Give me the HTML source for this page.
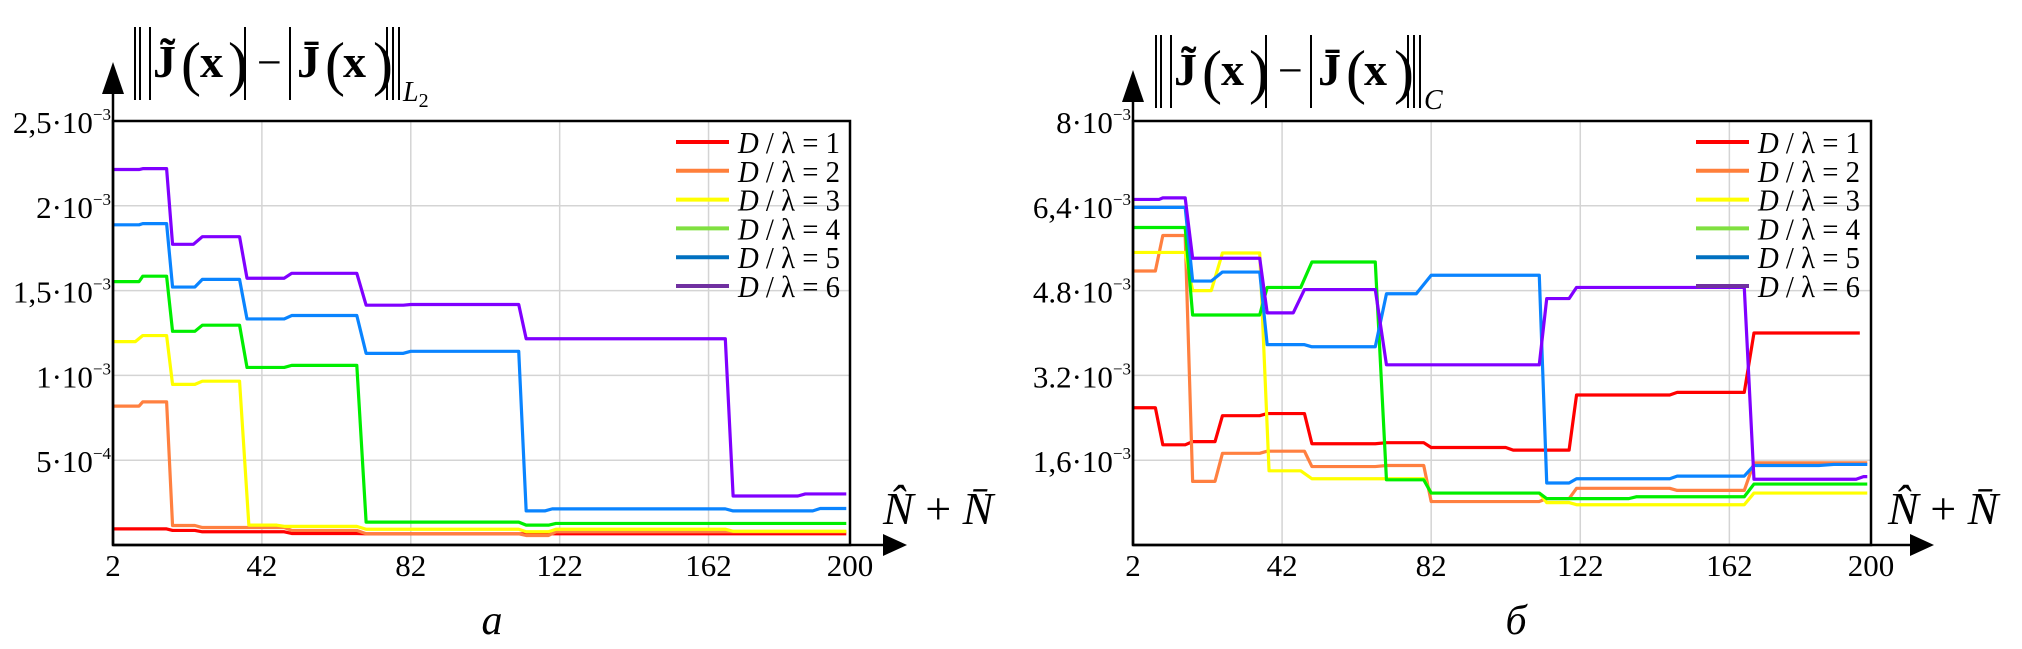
<!DOCTYPE html>
<html><head><meta charset="utf-8">
<style>
html,body{margin:0;padding:0;background:#fff;}
svg{display:block;font-family:"Liberation Serif",serif;}
</style></head>
<body>
<svg id="fig" width="2022" height="649" viewBox="0 0 2022 649" xmlns="http://www.w3.org/2000/svg"></svg>
<script>
// ===== shared axis data =====
const xTicks = [2, 42, 82, 122, 162, 200];
const xGrid = [42, 82, 122, 162];
const seriesLabels = ["1","2","3","4","5","6"];
const seriesColors = ["#ff0000","#ff8040","#ffff00","#00ee00","#0a84ff","#8000ff"];
const legendColors = ["#ff0000","#ff7f3a","#ffff00","#80e040","#0070c0","#7030a0"];

// ===== Chart A (L2 norm), values x1e-3 =====
const aYTicks = [0.5, 1.0, 1.5, 2.0, 2.5];
const aYTickText = ["5·10","1·10","1,5·10","2·10","2,5·10"];
const aYTickExp = ["−4","−3","−3","−3","−3"];
const a1S=[2,18,26,50,70], a1E=[16.4,24,48,67.5,199], a1V=[0.095,0.086,0.078,0.068,0.066];
const a2S=[2,10,18,26,50,70,113,121], a2E=[9,16.4,24,48,67.5,111,119,199], a2V=[0.819,0.844,0.115,0.103,0.086,0.066,0.056,0.078];
const a3S=[2,10,18,26,38.5,48,70,113,121,168.6], a3E=[8,16.4,24,36,46,67.5,111,119,166.5,199], a3V=[1.199,1.235,0.947,0.966,0.117,0.110,0.093,0.078,0.093,0.081];
const a4S=[2,10,18,26,38,50,70,113,121], a4E=[9,16.4,24,36,48,67.5,111,119,199], a4V=[1.553,1.585,1.260,1.296,1.047,1.059,0.135,0.117,0.127];
const a5S=[2,10,18,26,38,50,70,82,113,120,168.6,192], a5E=[9,16.4,24,36,48,67.5,80,111,118,166.5,190,199], a5V=[1.888,1.895,1.521,1.566,1.333,1.353,1.130,1.142,0.201,0.213,0.201,0.215];
const a6S=[2,10,18,26,38,50,70,82,113,168.6,188], a6E=[9,16.4,23.6,36,48,67.5,80,111,166.5,186,199], a6V=[2.214,2.219,1.773,1.818,1.573,1.602,1.414,1.418,1.216,0.289,0.301];

// ===== Chart B (C norm), values x1e-3 =====
const bYTicks = [1.6, 3.2, 4.8, 6.4, 8.0];
const bYTickText = ["1,6·10","3.2·10","4.8·10","6,4·10","8·10"];
const bYTickExp = ["−3","−3","−3","−3","−3"];
const b1S=[2,10,18,26,38,50,70,82,104,121,148,168.6], b1E=[8,16,24,36,48,67,80,102,119,146,166,197], b1V=[2.59,1.89,1.95,2.44,2.48,1.91,1.93,1.84,1.79,2.83,2.88,4.00];
const b2S=[2,10,18,26,38,50,70,82,113,121,148,168.6], b2E=[8,16,24,36,48,67,80,111,119,146,166,199], b2V=[5.17,5.84,1.20,1.73,1.77,1.48,1.50,0.82,0.875,1.07,1.03,1.55];
const b3S=[2,18,26,38.5,50,82,113,121,168.6], b3E=[16,23,36,47,80,111,119,166,199], b3V=[5.52,4.80,5.51,1.40,1.25,0.98,0.80,0.76,0.98];
const b4S=[2,18,38,50,70,82,113,137,168.6], b4E=[16,36,47,67,80,111,135,166,199], b4V=[5.99,4.34,4.86,5.34,1.23,0.98,0.875,0.91,1.15];
const b5S=[2,18,26,38,50,70,82,113,121,148,168.6,190], b5E=[16,23,36,48,67,78,111,119,146,166,186,199], b5V=[6.37,4.98,5.15,3.78,3.74,4.74,5.09,1.17,1.25,1.30,1.50,1.52];
const b6S=[2,10,18,38,48,70,113,121,168.6,180,198], b6E=[9,16,36,45,67,111,119,166,176,196,199], b6V=[6.52,6.55,5.41,4.38,4.82,3.40,4.65,4.86,1.24,1.24,1.29];

const NS="http://www.w3.org/2000/svg";
const svg=document.getElementById('fig');
function mk(tag,attrs,parent){const e=document.createElementNS(NS,tag);for(const k in attrs)e.setAttribute(k,attrs[k]);(parent||svg).appendChild(e);return e;}

function drawChart(cfg){
  const g=mk('g',{});
  
  
  const L=cfg.left,R=cfg.right,T=121,B=545;
  const xs=n=>L+(n-2)/(200-2)*(R-L);
  const ys=v=>B-v/cfg.yMax*(B-T);
  xGrid.forEach(n=>{const l=mk('line',{x1:xs(n),x2:xs(n),y1:T,y2:B,stroke:'#d4d4d4','stroke-width':1.5},g);
    
    });
  cfg.yTicks.forEach((v,i)=>{
    if(v<cfg.yMax){const l=mk('line',{x1:L,x2:R,y1:ys(v),y2:ys(v),stroke:'#d4d4d4','stroke-width':1.5},g);
      
      }
    const t=mk('text',{x:L-2,y:ys(v)+12,'text-anchor':'end','font-size':31,fill:'#000'},g);
    
    
    t.appendChild(document.createTextNode(cfg.yTickText[i]));
    const s=mk('tspan',{dy:-13,'font-size':17},t); s.textContent=cfg.yTickExp[i];
  });
  cfg.series.forEach((sr,k)=>{
    const pts=[];
    for(let i=0;i<sr.S.length;i++){pts.push(xs(sr.S[i])+','+ys(sr.V[i]));pts.push(xs(sr.E[i])+','+ys(sr.V[i]));}
    const p=mk('polyline',{points:pts.join(' '),fill:'none',stroke:seriesColors[k],'stroke-width':3.2,'stroke-linejoin':'round'},g);
    
    
  });
  const bx=mk('rect',{x:L,y:T,width:R-L,height:B-T,fill:'none',stroke:'#000','stroke-width':2.5},g);
  
  
  const ya=mk('line',{x1:L,x2:L,y1:B,y2:78,stroke:'#000','stroke-width':2.5},g);
  
  
  const yh=mk('polygon',{points:`${L-11},${94+cfg.dy} ${L},${62+cfg.dy} ${L+11},${94+cfg.dy}`,fill:'#000'},g);
  
  
  const xa=mk('line',{x1:L,x2:cfg.arrowEnd-10,y1:B,y2:B,stroke:'#000','stroke-width':2.5},g);
  
  
  const xh=mk('polygon',{points:`${cfg.arrowEnd-24},${B-11} ${cfg.arrowEnd},${B} ${cfg.arrowEnd-24},${B+11}`,fill:'#000'},g);
  
  
  xTicks.forEach(n=>{const t=mk('text',{x:xs(n),y:576,'text-anchor':'middle','font-size':31},g);t.textContent=n;
    
    });
  const xt=mk('text',{x:cfg.xTitleX,y:524,'font-size':46,'font-style':'italic'},g);
  
  
  xt.innerHTML='N&#770; <tspan font-style="normal">+</tspan> N&#772;';
  seriesLabels.forEach((lab,i)=>{
    const y=142+i*28.8;
    const ln=mk('line',{x1:cfg.legX,x2:cfg.legX+53,y1:y,y2:y,stroke:legendColors[i],'stroke-width':4},g);
    
    
    const t=mk('text',{x:cfg.legX+62,y:y+11,'font-size':31,textLength:102,lengthAdjust:'spacingAndGlyphs'},g);
    
    
    t.innerHTML='<tspan font-style="italic">D</tspan> / λ = '+lab;
  });
  const ox=cfg.titleX, oy=cfg.dy;
  const bars=[0,5,15,110,155,252,258,264];
  bars.forEach(b=>{const l=mk('line',{x1:ox+b,x2:ox+b,y1:27+oy,y2:100+oy,stroke:'#000','stroke-width':2},g);
    
    });
  const parts=[[18,'J̃','bold',46],[46,'(','normal',60],[65,'x','bold',46],[93,')','normal',60],[122,'−','normal',44],[162,'J̄','bold',46],[190,'(','normal',60],[208,'x','bold',46],[238,')','normal',60]];
  parts.forEach(p=>{const t=mk('text',{x:ox+p[0],y:(p[3]>50?84:77)+oy,'font-size':p[3],'font-weight':p[2]},g);t.textContent=p[1];
    
    });
  const sub=mk('text',{x:ox+268,y:101+oy,'font-size':28,'font-style':'italic'},g);
  
  
  sub.innerHTML=cfg.sub;
  const pl=mk('text',{x:cfg.panelX,y:634,'font-size':42,'font-style':'italic','text-anchor':'middle'},g);
  
  
  pl.textContent=cfg.panel;
}

drawChart({name:'chart-a-l2-norm',left:113,right:850,yMax:2.5,yTicks:aYTicks,yTickText:aYTickText,yTickExp:aYTickExp,
  series:[{S:a1S,E:a1E,V:a1V},{S:a2S,E:a2E,V:a2V},{S:a3S,E:a3E,V:a3V},{S:a4S,E:a4E,V:a4V},{S:a5S,E:a5E,V:a5V},{S:a6S,E:a6E,V:a6V}],
  arrowEnd:907,xTitleX:883,legX:676,titleX:135,dy:0,sub:'L<tspan font-size="20" dy="6" font-style="normal">2</tspan>',panelX:492,panel:'a'});
drawChart({name:'chart-b-c-norm',left:1133,right:1871,yMax:8.0,yTicks:bYTicks,yTickText:bYTickText,yTickExp:bYTickExp,
  series:[{S:b1S,E:b1E,V:b1V},{S:b2S,E:b2E,V:b2V},{S:b3S,E:b3E,V:b3V},{S:b4S,E:b4E,V:b4V},{S:b5S,E:b5E,V:b5V},{S:b6S,E:b6E,V:b6V}],
  arrowEnd:1934,xTitleX:1888,legX:1696,titleX:1156,dy:8,sub:'C',panelX:1516,panel:'б'});
</script>
</body></html>
